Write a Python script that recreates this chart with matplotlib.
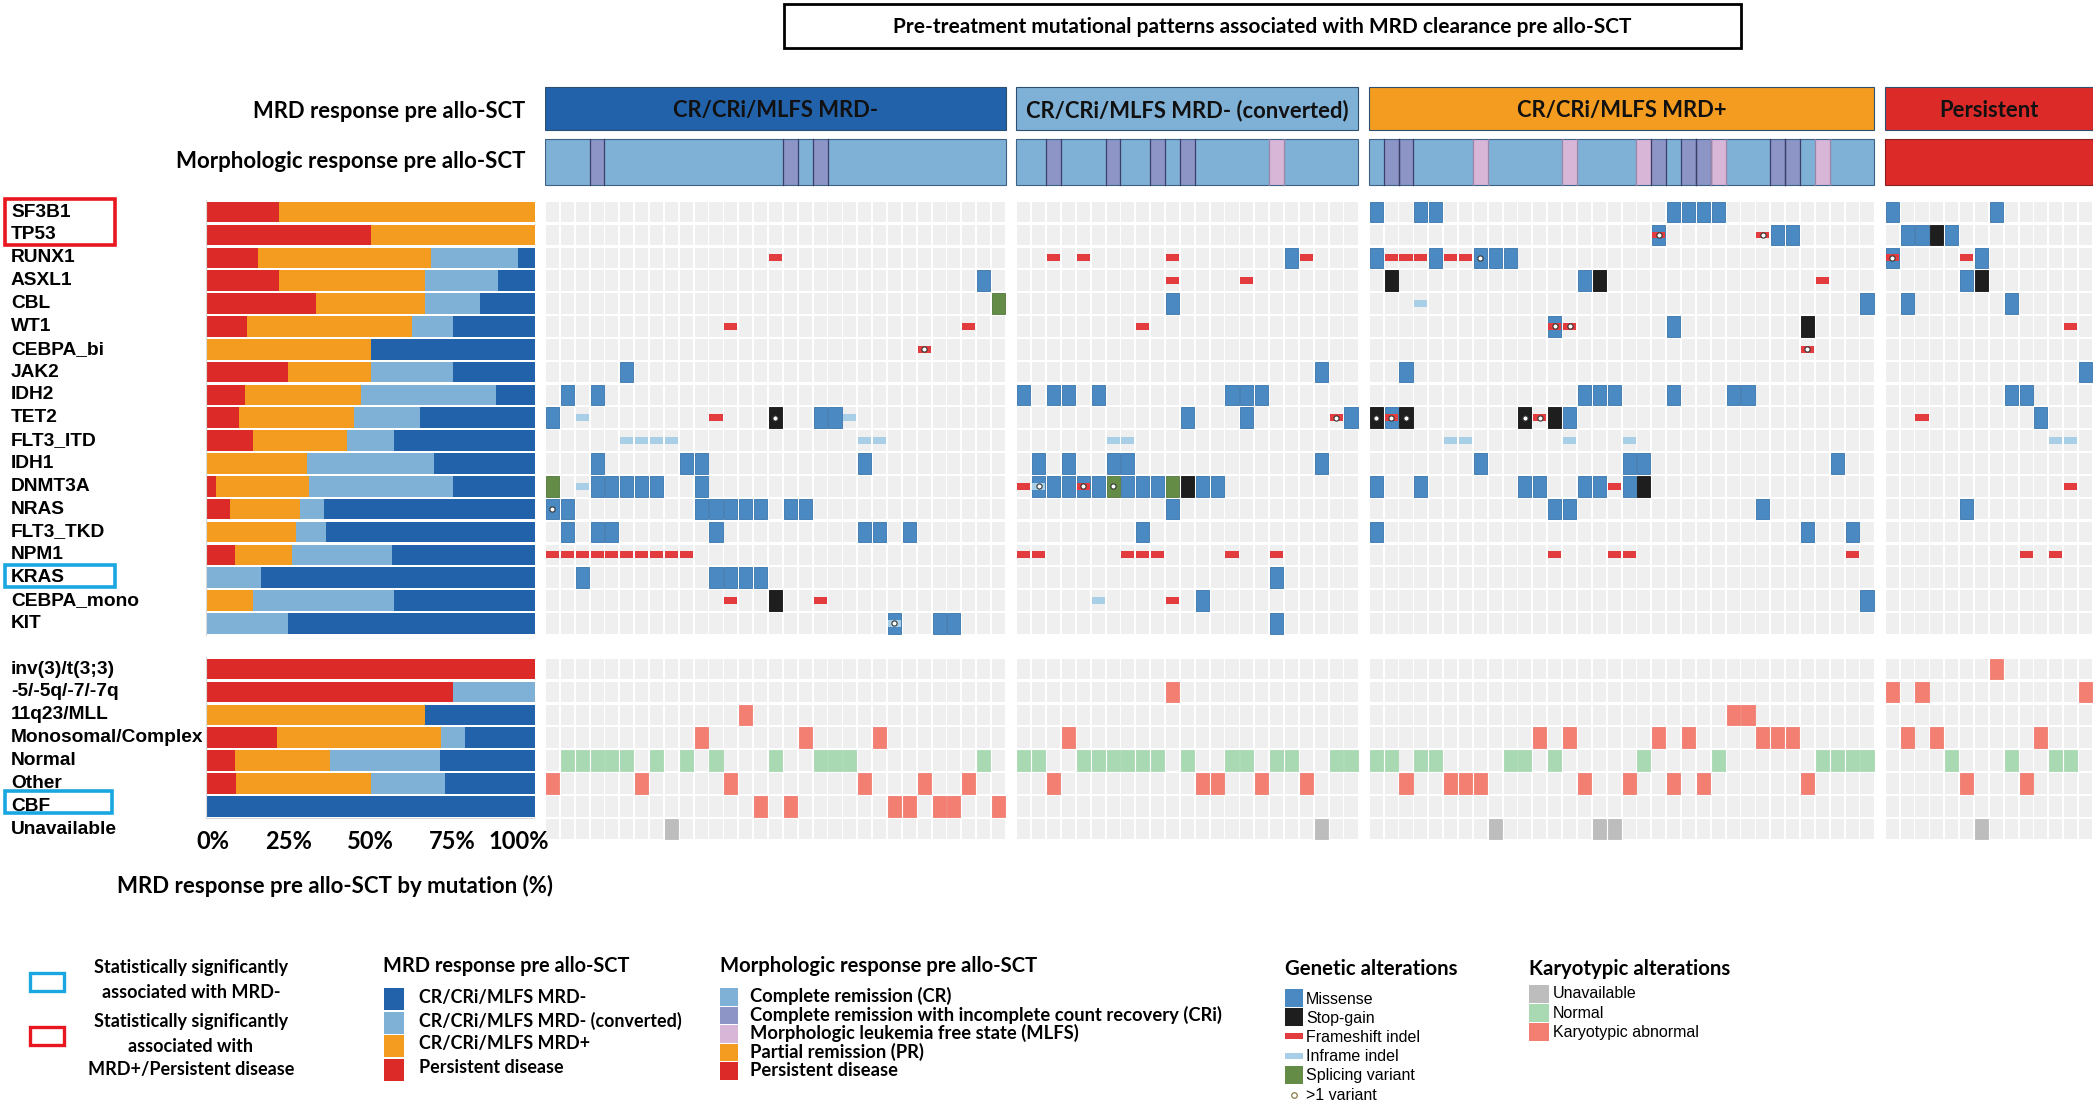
import numpy as np
import matplotlib
matplotlib.use("Agg")
import matplotlib.pyplot as plt
from matplotlib.patches import Rectangle
from matplotlib import font_manager

W, H = 2100, 1108

# --- data -------------------------------------------------------------
groups = ["CR/CRi/MLFS MRD-", "CR/CRi/MLFS MRD- (converted)", "CR/CRi/MLFS MRD+", "Persistent"]
group_sizes = [31, 23, 34, 14]
group_colors = ["#2262aa", "#7fb0d6", "#f39c1f", "#dc2a28"]

genes = ["SF3B1", "TP53", "RUNX1", "ASXL1", "CBL", "WT1", "CEBPA_bi", "JAK2", "IDH2", "TET2",
         "FLT3_ITD", "IDH1", "DNMT3A", "NRAS", "FLT3_TKD", "NPM1", "KRAS", "CEBPA_mono", "KIT"]

# per gene, per group: "<patient index><code>"
# M missense, S stop-gain, F frameshift indel, I inframe indel, P splicing variant
# lower case = >1 variant, X = missense + frameshift, Y = missense + inframe (both >1 variant)
mutations = {
    "SF3B1": ["", "", "0M 3M 4M 20M 21M 22M 23M", "0M 7M"],
    "TP53": ["", "", "19X 26f 27M 28M", "1M 2M 3S 4M"],
    "RUNX1": ["15F", "2F 4F 10F 18M 19F", "0M 1F 2F 3F 4M 5F 6F 7m 8M 9M", "0X 5F 6M"],
    "ASXL1": ["29M", "10F 15F", "1S 14M 15S 30F", "5M 6S"],
    "CBL": ["30P", "10M", "3I 33M", "1M 8M"],
    "WT1": ["12F 28F", "8F", "12X 13f 20M 29S", "12F"],
    "CEBPA_bi": ["25f", "", "29f", ""],
    "JAK2": ["5M", "20M", "2M", "13M"],
    "IDH2": ["1M 3M", "0M 2M 3M 5M 14M 15M 16M", "14M 15M 16M 20M 24M 25M", "8M 9M"],
    "TET2": ["0M 2I 11F 15s 18M 19M 20I", "11M 15M 21f 22M", "0s 1X 2s 10s 11f 12S 13M", "2F 10M"],
    "FLT3_ITD": ["5I 6I 7I 8I 21I 22I", "6I 7I", "5I 6I 13I 17I", "11I 12I"],
    "IDH1": ["3M 9M 10M 21M", "1M 3M 6M 7M 20M", "7M 17M 18M 31M", ""],
    "DNMT3A": ["0P 2I 3M 4M 5M 6M 7M 10M", "0F 1Y 2M 3M 4X 5M 6p 7M 8M 9M 10P 11S 12M 13M",
               "0M 3M 10M 11M 14M 15M 16F 17M 18S", "12F"],
    "NRAS": ["0m 1M 10M 11M 12M 13M 14M 16M 17M", "10M", "12M 13M 26M", "5M"],
    "FLT3_TKD": ["1M 3M 4M 11M 21M 22M 24M", "8M", "0M 29M 32M", ""],
    "NPM1": ["0F 1F 2F 3F 4F 5F 6F 7F 8F 9F", "0F 1F 7F 8F 9F 14F 17F", "12F 16F 17F 32F", "9F 11F"],
    "KRAS": ["2M 11M 12M 13M 14M", "17M", "", ""],
    "CEBPA_mono": ["12F 15S 18F", "5I 10F 12M", "33M", ""],
    "KIT": ["23Y 26M 27M", "17M", "", ""],
}

karyo_labels = ["inv(3)/t(3;3)", "-5/-5q/-7/-7q", "11q23/MLL", "Monosomal/Complex",
                "Normal", "Other", "CBF", "Unavailable"]
karyo_codes = ["i", "5", "L", "C", "N", "O", "B", "U"]
# one character per patient
karyotype = ["ONNNNNONUNCNOLBNBCNNNOCBBOBBONB",
             "NNOCNNNNNN5NOONNONNOUNN",
             "NNONNOOOUNNCNCOUUONCOCONLLCCCONNNN",
             "5C5CNOUiNOCNN5"]

# R complete remission, i CRi, m MLFS, P persistent disease
morphology = ["RRRiRRRRRRRRRRRRiRiRRRRRRRRRRRR",
              "RRiRRRiRRiRiRRRRRmRRRRR",
              "RiiRRRRmRRRRRmRRRRmiRiimRRRiiRmRRR",
              "PPPPPPPPPPPPPP"]
morph_colors = {"R": "#7fb0d6", "i": "#8c95c6", "m": "#d8b6d8", "PR": "#f39c1f", "P": "#dc2a28"}

c_missense, c_stop, c_frame, c_inframe, c_splice = "#4a89c2", "#1e1e1e", "#e23c3e", "#a8cfe6", "#648c46"
c_bg = "#efefef"
kar_colors = {"U": "#bdbdbd", "N": "#a9d9b3", "abn": "#f27f72"}

# --- fonts ------------------------------------------------------------
narrow = "Liberation Sans Narrow"
try:
    font_manager.findfont(font_manager.FontProperties(family=narrow), fallback_to_default=False)
except Exception:
    narrow = "Liberation Sans"
cal = "Lato"
arial = "Liberation Sans"

fig = plt.figure(figsize=(W / 100, H / 100), dpi=100)


def px_axes(x0, y0, x1, y1, **kw):
    return fig.add_axes([x0 / W, 1 - y1 / H, (x1 - x0) / W, (y1 - y0) / H], **kw)


ROW0, ROWH = 200.7, 22.85
Y_TOP, Y_BOT = 85, 845
r_top, r_bot = (Y_TOP - ROW0) / ROWH, (Y_BOT - ROW0) / ROWH
KROW = 20  # first karyotype row


def row_px(r):
    return ROW0 + (r + 0.5) * ROWH


# overlay for free text / legend
ov = px_axes(0, 0, W, H)
ov.set_xlim(0, W)
ov.set_ylim(H, 0)
ov.axis("off")

# --- main grid ----------------------------------------------------------
GAP = 0.7
ax = px_axes(545, Y_TOP, 2093, Y_BOT)
ax.set_xlim(0, sum(group_sizes) + 3 * GAP)
ax.set_ylim(r_bot, r_top)
ax.axis("off")
starts = np.cumsum([0] + group_sizes[:-1]) + np.arange(4) * GAP

CW, CH = 0.88, 0.9


def full_cell(x, r, color, ec=None):
    ax.add_patch(Rectangle((x + (1 - CW) / 2, r + (1 - CH) / 2), CW, CH, fc=color,
                           ec=ec if ec else color, lw=0.6, zorder=2))


def thin_cell(x, r, color):
    ax.add_patch(Rectangle((x + (1 - CW) / 2, r + 0.35), CW, 0.3, fc=color, lw=0, zorder=3))


dots = []
for g, n in enumerate(group_sizes):
    for i in range(n):
        x = starts[g] + i
        for r in list(range(len(genes))) + [KROW + k for k in range(len(karyo_labels))]:
            ax.add_patch(Rectangle((x + (1 - CW) / 2, r + (1 - CH) / 2), CW, CH, fc=c_bg, lw=0, zorder=1))

for r, gene in enumerate(genes):
    for g, calls in enumerate(mutations[gene]):
        for tok in calls.split():
            i, code = int(tok[:-1]), tok[-1]
            x = starts[g] + i
            up = code.upper()
            if up == "M":
                full_cell(x, r, c_missense, "#3a76ad")
            elif up == "S":
                full_cell(x, r, c_stop, "#111111")
            elif up == "P":
                full_cell(x, r, c_splice, "#52783a")
            elif up == "F":
                thin_cell(x, r, c_frame)
            elif up == "I":
                thin_cell(x, r, c_inframe)
            elif up == "X":
                full_cell(x, r, c_missense, "#3a76ad")
                thin_cell(x, r, c_frame)
            elif up == "Y":
                full_cell(x, r, c_missense, "#3a76ad")
                thin_cell(x, r, c_inframe)
            if code.islower() or code in "XY":
                dots.append((x + 0.5, r + 0.5))

dots = np.array(dots)
ax.scatter(dots[:, 0], dots[:, 1], s=14, c="white", edgecolors="#333333", linewidths=0.8, zorder=5)

for g, s in enumerate(karyotype):
    for i, ch in enumerate(s):
        k = karyo_codes.index(ch)
        col = kar_colors["U"] if ch == "U" else kar_colors["N"] if ch == "N" else kar_colors["abn"]
        full_cell(starts[g] + i, KROW + k, col)

# header bars
mrd_y0, mrd_h = (87 - ROW0) / ROWH, 43 / ROWH
mor_y0, mor_h = (139 - ROW0) / ROWH, 46 / ROWH
for g, n in enumerate(group_sizes):
    ax.add_patch(Rectangle((starts[g], mrd_y0), n, mrd_h, fc=group_colors[g], ec="#2d4f72", lw=0.8))
    ax.text(starts[g] + n / 2, mrd_y0 + mrd_h / 2 + 0.1, groups[g], ha="center", va="center",
            fontsize=15.8, fontweight="bold", family=cal, color="#111111")
    for i, ch in enumerate(morphology[g]):
        x = starts[g] + i
        ax.add_patch(Rectangle((x, mor_y0), 1, mor_h, fc=morph_colors[ch], lw=0))
        if ch in "im":
            ec = "#3b3f6a" if ch == "i" else "#9a86a8"
            ax.plot([x, x], [mor_y0, mor_y0 + mor_h], color=ec, lw=0.9)
            ax.plot([x + 1, x + 1], [mor_y0, mor_y0 + mor_h], color=ec, lw=0.9)
    ax.add_patch(Rectangle((starts[g], mor_y0), n, mor_h, fc="none",
                           ec="#8a2020" if g == 3 else "#3c6286", lw=0.8))

# --- stacked bars: MRD response by mutation ------------------------------
axb = px_axes(206, Y_TOP, 535, Y_BOT)
axb.set_xlim(0, 100)
axb.set_ylim(r_bot, r_top)
axb.axis("off")

bar_order = [3, 2, 1, 0]  # persistent, MRD+, converted, MRD-
rows_counts = []
for r, gene in enumerate(genes):
    counts = [len(mutations[gene][g].split()) for g in range(4)]
    rows_counts.append((r, counts))
for k, code in enumerate(karyo_codes):
    if code == "U":
        continue
    counts = [karyotype[g].count(code) for g in range(4)]
    rows_counts.append((KROW + k, counts))

for r, counts in rows_counts:
    tot = sum(counts)
    left = 0
    for g in bar_order:
        w = 100 * counts[g] / tot
        if w > 0:
            axb.barh(r + 0.5, w, left=left, height=0.9, color=group_colors[g], lw=0)
        left += w
axb.plot([0, 0], [-0.05, 19], color="#d9d9d9", lw=0.8)
axb.plot([0, 0], [KROW - 0.05, KROW + 7], color="#d9d9d9", lw=0.8)
axb.plot([0, 100], [KROW + 7, KROW + 7], color="#d9d9d9", lw=0.8)

for v in [0, 25, 50, 75, 100]:
    axb.text(v + (2 if v == 0 else -5 if v == 100 else 0), KROW + 8.05, f"{v}%", ha="center", va="center",
             fontsize=17, fontweight="bold", family=cal)

# row labels
for r, gene in enumerate(genes):
    ov.text(11, row_px(r), gene, ha="left", va="center", fontsize=13.8, fontweight="bold", family=arial)
for k, lab in enumerate(karyo_labels):
    ov.text(11, row_px(KROW + k), lab, ha="left", va="center", fontsize=13.8, fontweight="bold", family=arial)

ov.add_patch(Rectangle((5, 199), 110, 46, fc="none", ec="#e8161e", lw=2.6))
ov.add_patch(Rectangle((5, 565), 110, 22, fc="none", ec="#1aa7e0", lw=2.6))
ov.add_patch(Rectangle((5, 791), 107, 22, fc="none", ec="#1aa7e0", lw=2.6))

# titles
ov.add_patch(Rectangle((784, 4), 957, 44, fc="white", ec="black", lw=2))
ov.text(1262, 27, "Pre-treatment mutational patterns associated with MRD clearance pre allo-SCT",
        ha="center", va="center", fontsize=15, fontweight="bold", family=cal)
ov.text(525, 111, "MRD response pre allo-SCT", ha="right", va="center", fontsize=15.8, fontweight="bold", family=cal)
ov.text(525, 162, "Morphologic response pre allo-SCT", ha="right", va="center", fontsize=16,
        fontweight="bold", family=cal)
ov.text(335, 886, "MRD response pre allo-SCT by mutation (%)", ha="center", va="center", fontsize=16,
        fontweight="bold", family=cal)

# --- legends --------------------------------------------------------------
ov.add_patch(Rectangle((30, 973), 34, 18, fc="none", ec="#1aa7e0", lw=2.4))
ov.add_patch(Rectangle((30, 1027), 34, 18, fc="none", ec="#e8161e", lw=2.4))
ov.text(191, 980, "Statistically significantly\nassociated with MRD-", ha="center", va="center",
        fontsize=13, fontweight="bold", family=cal, linespacing=1.5)
ov.text(191, 1046, "Statistically significantly\nassociated with\nMRD+/Persistent disease", ha="center",
        va="center", fontsize=13, fontweight="bold", family=cal, linespacing=1.5)

ov.text(383, 966, "MRD response pre allo-SCT", ha="left", va="center", fontsize=14.4, fontweight="bold", family=cal)
mrd_legend = ["CR/CRi/MLFS MRD-", "CR/CRi/MLFS MRD- (converted)", "CR/CRi/MLFS MRD+", "Persistent disease"]
for j, lab in enumerate(mrd_legend):
    y = 988 + j * 23.5
    ov.add_patch(Rectangle((384, y), 20, 22, fc=group_colors[j], lw=0))
    ov.text(419, y + 9, lab, ha="left", va="center", fontsize=12.9, fontweight="bold", family=cal)

ov.text(720, 966, "Morphologic response pre allo-SCT", ha="left", va="center", fontsize=14.6,
        fontweight="bold", family=cal)
morph_legend = [("R", "Complete remission (CR)"),
                ("i", "Complete remission with incomplete count recovery (CRi)"),
                ("m", "Morphologic leukemia free state (MLFS)"),
                ("PR", "Partial remission (PR)"),
                ("P", "Persistent disease")]
for j, (code, lab) in enumerate(morph_legend):
    y = 988 + j * 18.6
    ov.add_patch(Rectangle((720, y), 18, 17.5, fc=morph_colors[code], lw=0))
    ov.text(750, y + 8, lab, ha="left", va="center", fontsize=13.2, fontweight="bold", family=cal)

ov.text(1285, 969, "Genetic alterations", ha="left", va="center", fontsize=14.7, fontweight="bold", family=cal)
gen_legend = [("full", c_missense, "Missense"), ("full", c_stop, "Stop-gain"),
              ("thin", c_frame, "Frameshift indel"), ("thin", c_inframe, "Inframe indel"),
              ("full", c_splice, "Splicing variant")]
for j, (kind, col, lab) in enumerate(gen_legend):
    y = 989 + j * 19.2
    if kind == "full":
        ov.add_patch(Rectangle((1285, y), 18, 18, fc=col, lw=0))
    else:
        ov.add_patch(Rectangle((1285, y + 6), 18, 6, fc=col, lw=0))
    ov.text(1306, y + 10, lab, ha="left", va="center", fontsize=11.5, family=narrow)
ov.scatter([1294], [1095], s=16, c="white", edgecolors="#8a7a4a", linewidths=0.9)
ov.text(1306, 1095, ">1 variant", ha="left", va="center", fontsize=11.5, family=narrow)

ov.text(1529, 969, "Karyotypic alterations", ha="left", va="center", fontsize=14.7, fontweight="bold", family=cal)
kar_legend = [("U", "Unavailable"), ("N", "Normal"), ("abn", "Karyotypic abnormal")]
for j, (code, lab) in enumerate(kar_legend):
    y = 985 + j * 19
    ov.add_patch(Rectangle((1529, y), 20, 18, fc=kar_colors[code], lw=0))
    ov.text(1553, y + 9, lab, ha="left", va="center", fontsize=11.5, family=narrow)

fig.savefig("out.png", dpi=100)
